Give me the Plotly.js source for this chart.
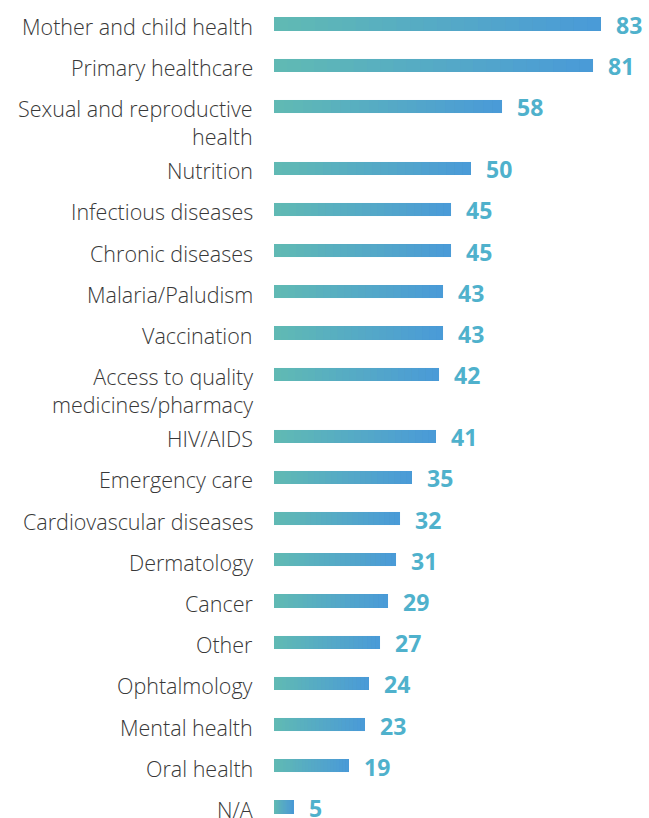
<!DOCTYPE html>
<html><head><meta charset="utf-8">
<script src="https://cdn.plot.ly/plotly-3.0.1.min.js"></script>
<style>html,body{margin:0;padding:0;background:#fff}#chart{width:649px;height:818px}</style>
</head><body><div id="chart"></div>
<script>
const categories = [
  "Mother and child health","Primary healthcare","Sexual and reproductive<br>health","Nutrition",
  "Infectious diseases","Chronic diseases","Malaria/Paludism","Vaccination",
  "Access to quality<br>medicines/pharmacy","HIV/AIDS","Emergency care","Cardiovascular diseases",
  "Dermatology","Cancer","Other","Ophtalmology","Mental health","Oral health","N/A"
];
const values = [83,81,58,50,45,45,43,43,42,41,35,32,31,29,27,24,23,19,5];

// row positions: extra spacing after multi-line labels
const pos = [];
let p = 0;
categories.forEach((c,i)=>{ pos.push(p); p += 1 + 0.5*(c.split("<br>").length-1); });

// gradient: each bar split into N stacked segments, colour interpolated along the bar
const startC = [96,186,179], endC = [74,154,216];
const N = 24;
const traces = [];
for (let k = 0; k < N; k++) {
  const t = (k+0.5)/N;
  const col = 'rgb(' + startC.map((s,j)=>Math.round(s+(endC[j]-s)*t)).join(',') + ')';
  traces.push({
    type:'bar', orientation:'h',
    x: values.map(v=>v/N), y: pos,
    width: 0.32,
    marker:{color:col, line:{width:0.02, color:col}},
    hoverinfo:'skip', showlegend:false
  });
}

const annotations = [];
categories.forEach((c,i)=>{
  annotations.push({x:0, y:pos[i], xref:'x', yref:'y', text:c, showarrow:false,
    xanchor:'right', yanchor:'top', yshift:14, xshift:-19, align:'right',
    font:{family:'"Open Sans", sans-serif', size:21.5, color:'#383838', weight:300}});
  annotations.push({x:values[i], y:pos[i], xref:'x', yref:'y', text:String(values[i]), showarrow:false,
    xanchor:'left', yanchor:'middle', xshift:13, yshift:-1,
    font:{family:'"Open Sans", sans-serif', size:23, color:'#4fb1cc', weight:700}});
});

const topPx = 24, lastPx = 807;
const pxPerUnit = (lastPx - topPx) / pos[pos.length-1];
Plotly.newPlot('chart', traces, {
  width:649, height:818,
  margin:{l:274, r:0, t:0, b:0},
  barmode:'stack',
  paper_bgcolor:'#fff', plot_bgcolor:'#fff',
  xaxis:{range:[0,95.2], visible:false, fixedrange:true},
  yaxis:{range:[(818-topPx)/pxPerUnit, -topPx/pxPerUnit], visible:false, fixedrange:true},
  annotations:annotations
}, {displayModeBar:false});
</script></body></html>
